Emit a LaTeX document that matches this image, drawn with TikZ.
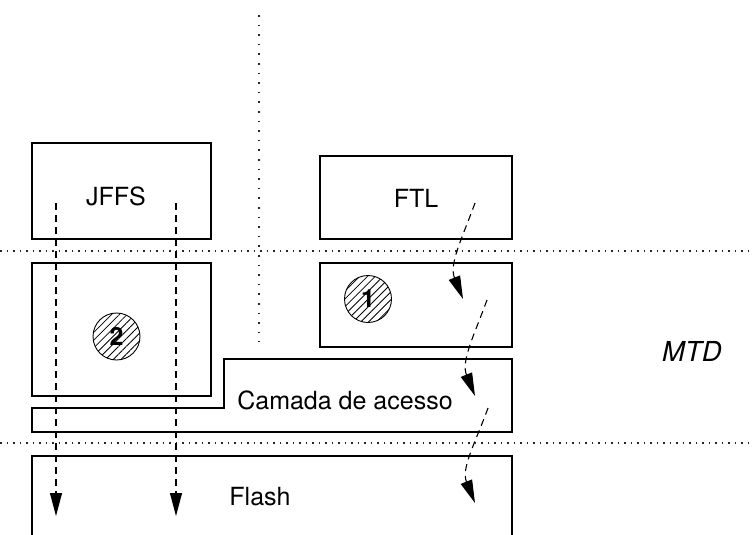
\documentclass[tikz,border=0pt]{standalone}
\usepackage{fontspec}
\setmainfont{TeX Gyre Heros}
\usetikzlibrary{arrows.meta,patterns.meta}

\tikzset{
  layer/.style={draw, line width=2pt, inner sep=0pt},
  lbl/.style={font=\fontsize{25}{30}\selectfont, inner sep=0pt},
  divider/.style={line width=1.2pt, black!85, dash pattern=on 1.6pt off 4.9pt},
  vdivider/.style={line width=1.2pt, black!85, dash pattern=on 1.6pt off 8pt},
  access/.style={line width=1.1pt, dash pattern=on 7pt off 5pt,
    -{Triangle[length=23pt,width=12pt]}},
  marker/.style={circle, draw, line width=0.9pt, minimum size=47pt, inner sep=0pt,
    pattern={Lines[angle=45,distance=5.5pt,line width=0.8pt]},
    font=\fontsize{25}{30}\selectfont\bfseries},
}

\begin{document}
\begin{tikzpicture}[x=1pt,y=-1pt]
\useasboundingbox (0,0) rectangle (752,535);

% layer separators
\draw[divider] (0,251) -- (752,251);
\draw[divider] (0,443) -- (752,443);
\draw[vdivider] (259,15) -- (259,342);

% upper layer
\node[layer, minimum width=179pt, minimum height=96pt] (jffs) at (121.5,191) {};
\node[layer, minimum width=192pt, minimum height=83pt] (ftl) at (416,197.5) {};
\node[lbl] (jffst) at (116,196) {JFFS};
\node[lbl] (ftlt) at (416,198) {FTL};

% MTD layer
\node[layer, minimum width=179pt, minimum height=133pt] (jffsm) at (121.5,329.5) {};
\node[layer, minimum width=192pt, minimum height=84pt] (ftlm) at (416,305) {};
\draw[line width=2pt, line join=miter]
  (32,408) -- (224,408) -- (224,359) -- (512,359) -- (512,432) -- (32,432) -- cycle;
\node[lbl] (acc) at (345,400) {Camada de acesso};
\node[lbl, font=\fontsize{27.5}{32}\selectfont\itshape] (mtd) at (692,351) {MTD};

\node[marker] (m2) at (116.5,336.5) {2};
\node[marker] (m1) at (368,299) {1};

% flash
\draw[line width=2pt] (32,540) -- (32,456) -- (512,456) -- (512,540);
\node[lbl] (flash) at (260,497) {Flash};

% direct access paths of JFFS
\coordinate (a1) at (56,203);
\coordinate (b1) at (56,516);
\coordinate (a2) at (176,203);
\coordinate (b2) at (176,516);
\draw[access] (a1) -- (b1);
\draw[access] (a2) -- (b2);

% FTL access path through the layers
\coordinate (c1) at (475,203);
\coordinate (d1) at (463,299);
\coordinate (c2) at (487,300);
\coordinate (d2) at (475,396);
\coordinate (c3) at (488,408);
\coordinate (d3) at (475,503);
\draw[access] (c1) to[out=250,in=112] (d1);
\draw[access] (c2) to[out=250,in=112] (d2);
\draw[access] (c3) to[out=250,in=112] (d3);
\end{tikzpicture}
\end{document}
